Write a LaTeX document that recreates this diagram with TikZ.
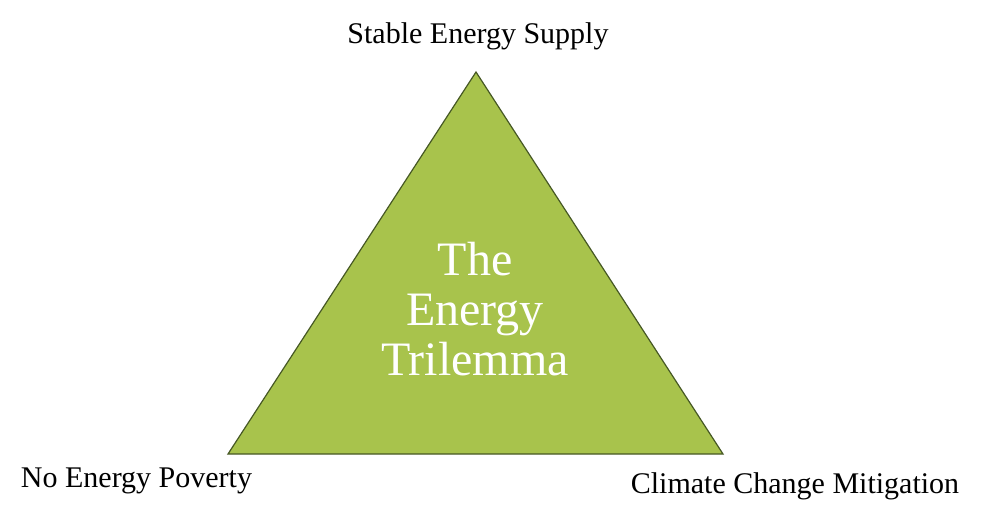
\documentclass[tikz,border=0pt]{standalone}
\usepackage{fontspec}
\setmainfont{Liberation Serif}
\definecolor{trigreen}{RGB}{168,195,76}
\definecolor{triedge}{RGB}{70,88,36}
\tikzset{corner label/.style={font=\fontsize{30}{36}\selectfont,anchor=base}}
\begin{document}
\begin{tikzpicture}[x=1pt,y=-1pt]
\useasboundingbox (0,0) rectangle (991,517);
\coordinate (top) at (476,72);
\coordinate (left) at (228,454);
\coordinate (right) at (723,454);
\draw [triedge,fill=trigreen,line width=1.2pt] (top) -- (left) -- (right) -- cycle;
\node [corner label] (supply) at (478,43) {Stable Energy Supply};
\node [corner label] (poverty) at (136.5,487) {No Energy Poverty};
\node [corner label] (climate) at (795,493) {Climate Change Mitigation};
\node [white,font=\fontsize{48}{50}\selectfont,align=center] (trilemma) at (475,309) {The\\Energy\\Trilemma};
\end{tikzpicture}
\end{document}
